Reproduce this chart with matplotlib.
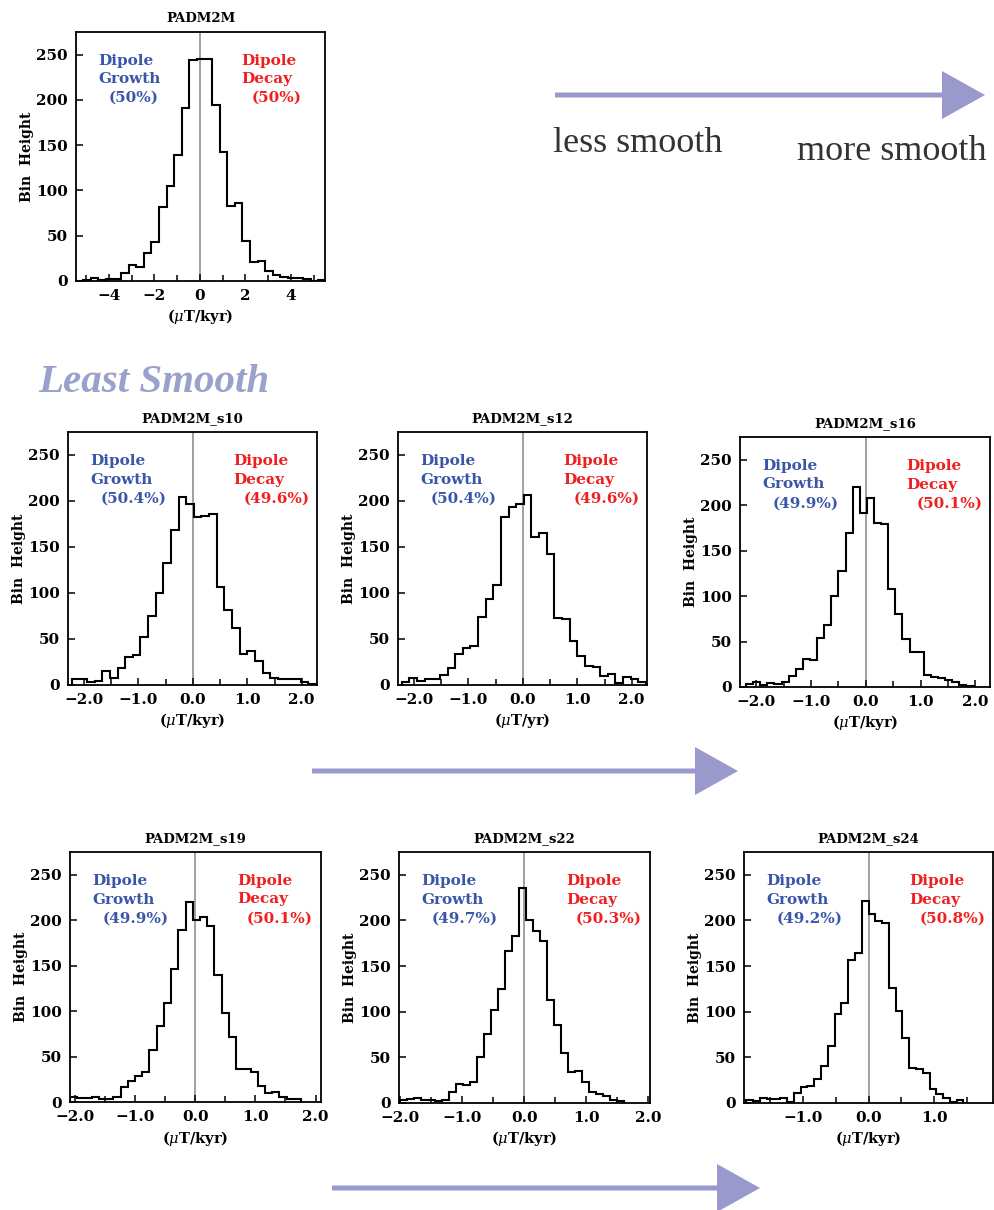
import numpy as np
import matplotlib
matplotlib.use('Agg')
import matplotlib.pyplot as plt
import matplotlib.patches as mpatches
from matplotlib.ticker import MultipleLocator, FuncFormatter

plt.rcParams['mathtext.fontset'] = 'dejavuserif'

# ---- data ----
names = ['PADM2M', 'PADM2M_s10', 'PADM2M_s12', 'PADM2M_s16',
         'PADM2M_s19', 'PADM2M_s22', 'PADM2M_s24']
xunits = ['kyr', 'kyr', 'yr', 'kyr', 'kyr', 'kyr', 'kyr']
growth_pct = ['50%', '50.4%', '50.4%', '49.9%', '49.9%', '49.7%', '49.2%']
decay_pct = ['50%', '49.6%', '49.6%', '50.1%', '50.1%', '50.3%', '50.8%']

# first bin edge and bin width of each histogram
bin_start = [-5.467, -2.22, -2.22, -2.19, -2.08, -2.0, -1.854]
bin_width = [1 / 3, 0.14, 0.14, 0.13, 0.12, 0.113, 0.103]

counts_padm2m = [0, 1, 3, 1, 2, 2, 9, 18, 16, 31, 43, 82, 105, 139, 191, 244, 245,
                 245, 194, 143, 83, 86, 44, 21, 22, 11, 7, 4, 3, 3, 2, 0, 1]
counts_s10 = [6, 7, 3, 4, 15, 8, 18, 30, 33, 52, 75, 100, 133, 168, 204, 197,
              183, 184, 186, 107, 82, 62, 34, 37, 26, 13, 8, 7, 6, 6, 3, 1]
counts_s12 = [3, 8, 4, 7, 6, 11, 18, 34, 40, 42, 74, 93, 109, 183, 194, 197,
              206, 161, 165, 142, 73, 72, 48, 32, 21, 20, 10, 12, 2, 9, 6, 3]
counts_s16 = [3, 6, 2, 4, 3, 6, 12, 20, 31, 30, 54, 68, 100, 128, 169, 220,
              191, 208, 180, 179, 108, 80, 53, 38, 38, 13, 11, 10, 8, 5, 2, 1]
counts_s19 = [5, 4, 4, 5, 3, 3, 5, 17, 23, 29, 33, 57, 84, 109, 146, 189,
              220, 200, 204, 194, 140, 98, 72, 36, 36, 33, 18, 10, 11, 6, 3, 3]
counts_s22 = [3, 4, 5, 3, 3, 2, 3, 12, 21, 20, 23, 50, 76, 102, 125, 167,
              183, 236, 201, 188, 178, 113, 85, 55, 34, 35, 23, 12, 10, 8, 3, 2]
counts_s24 = [3, 2, 5, 4, 4, 5, 1, 11, 17, 19, 26, 41, 62, 98, 110, 157,
              164, 221, 207, 199, 197, 126, 101, 71, 38, 37, 33, 15, 10, 6, 1, 3]
all_counts = [counts_padm2m, counts_s10, counts_s12, counts_s16,
              counts_s19, counts_s22, counts_s24]

xlims = [(-5.45, 5.5), (-2.29, 2.28), (-2.29, 2.28), (-2.3, 2.27),
         (-2.08, 2.09), (-2.02, 2.03), (-1.89, 1.89)]

# axes boxes in pixels: left, right, top, bottom
boxes = [(76, 325, 32, 281), (68, 317, 432, 685), (398, 647, 432, 685),
         (740, 990, 437, 687), (70, 321, 852, 1102), (399, 650, 852, 1103),
         (744, 993, 852, 1103)]

W, H = 994, 1210
BLUE = '#3a56a8'
RED = '#ee2020'
LAVENDER = '#9999cc'
font = 'DejaVu Serif'


def minus_fmt(fmt):
    return FuncFormatter(lambda v, pos: (fmt % v).replace('-', '\u2212'))


fig = plt.figure(figsize=(W / 100, H / 100), dpi=100)

for i in range(len(names)):
    l, r, t, b = boxes[i]
    ax = fig.add_axes([l / W, (H - b) / H, (r - l) / W, (b - t) / H])
    counts = np.array(all_counts[i])
    edges = bin_start[i] + bin_width[i] * np.arange(len(counts) + 1)
    ax.stairs(counts, edges, color='k', lw=1.5, baseline=0)
    ax.axvline(0, color='#999999', lw=1.3, zorder=0)
    ax.set_xlim(*xlims[i])
    ax.set_ylim(0, 275)

    if i == 0:
        ax.xaxis.set_major_locator(MultipleLocator(2))
        ax.xaxis.set_minor_locator(MultipleLocator(1))
        ax.xaxis.set_major_formatter(minus_fmt('%d'))
    else:
        ax.xaxis.set_major_locator(MultipleLocator(1))
        ax.xaxis.set_minor_locator(MultipleLocator(0.5))
        ax.xaxis.set_major_formatter(minus_fmt('%.1f'))
    ax.yaxis.set_major_locator(MultipleLocator(50))
    ax.tick_params(which='both', direction='in', width=1.1)
    ax.tick_params(which='major', length=5, pad=6)
    ax.tick_params(which='minor', length=4)
    for lab in ax.get_xticklabels() + ax.get_yticklabels():
        lab.set_fontfamily(font)
        lab.set_fontweight('bold')
        lab.set_fontsize(11)
    for sp in ax.spines.values():
        sp.set_linewidth(1.3)

    ax.set_title(names[i], fontfamily=font, fontweight='bold', fontsize=9.5, pad=7)
    ax.set_ylabel('Bin  Height', fontfamily=font, fontweight='bold', fontsize=10, labelpad=1)
    ax.set_xlabel(r'($\mu$T/' + xunits[i] + ')', fontfamily=font, fontweight='bold',
                  fontsize=10.5, labelpad=3)

    kw = dict(transform=ax.transAxes, fontfamily=font, fontweight='bold',
              fontsize=11, va='center', ha='left')
    ax.text(0.09, 0.885, 'Dipole', color=BLUE, **kw)
    ax.text(0.09, 0.81, 'Growth', color=BLUE, **kw)
    ax.text(0.13, 0.735, '(' + growth_pct[i] + ')', color=BLUE, **kw)
    ax.text(0.665, 0.885, 'Dipole', color=RED, **kw)
    ax.text(0.665, 0.81, 'Decay', color=RED, **kw)
    ax.text(0.705, 0.735, '(' + decay_pct[i] + ')', color=RED, **kw)

# overlay in pixel coordinates for arrows and captions
ov = fig.add_axes([0, 0, 1, 1], zorder=-1)
ov.set_xlim(0, W)
ov.set_ylim(H, 0)
ov.axis('off')

arrows = [(555, 985, 95), (312, 738, 771), (332, 760, 1188)]
for x0, x1, y in arrows:
    ov.add_patch(mpatches.FancyArrow(x0, y, x1 - x0, 0, width=5, head_width=48,
                                     head_length=43, length_includes_head=True,
                                     color=LAVENDER, lw=0))

ov.text(553, 152, 'less smooth', fontfamily='Liberation Serif', fontsize=26,
        color='#333333', va='baseline')
ov.text(797, 160, 'more smooth', fontfamily='Liberation Serif', fontsize=26,
        color='#333333', va='baseline')
ov.text(38, 392, 'Least Smooth', fontfamily='Liberation Serif', fontsize=29.5,
        fontweight='bold', fontstyle='italic', color='#9aa2cc', va='baseline')

fig.savefig('out.png', dpi=100)
